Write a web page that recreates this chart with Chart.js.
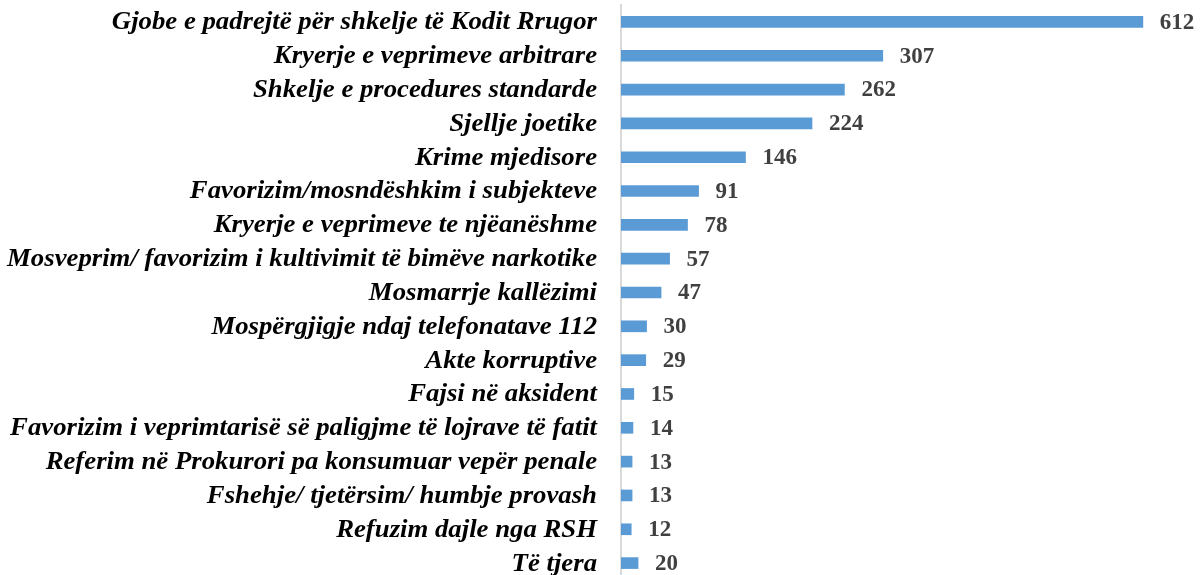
<!DOCTYPE html>
<html>
<head>
<meta charset="utf-8">
<script src="https://cdn.jsdelivr.net/npm/chart.js@4/dist/chart.umd.min.js"></script>
<style>
  html, body { margin: 0; padding: 0; background: #fff; overflow: hidden; }
  #wrap { width: 1200px; height: 580px; }
</style>
</head>
<body>
<div id="wrap"><canvas id="chart" width="1200" height="580"></canvas></div>
<script>
// Categories and counts (top to bottom)
let categories = [
  "Gjobe e padrejtë për shkelje të Kodit Rrugor",
  "Kryerje e veprimeve arbitrare",
  "Shkelje e procedures standarde",
  "Sjellje joetike",
  "Krime mjedisore",
  "Favorizim/mosndëshkim i subjekteve",
  "Kryerje e veprimeve te njëanëshme",
  "Mosveprim/ favorizim i kultivimit të bimëve narkotike",
  "Mosmarrje kallëzimi",
  "Mospërgjigje ndaj telefonatave 112",
  "Akte korruptive",
  "Fajsi në aksident",
  "Favorizim i veprimtarisë së paligjme të lojrave të fatit",
  "Referim në Prokurori pa konsumuar vepër penale",
  "Fshehje/ tjetërsim/ humbje provash",
  "Refuzim dajle nga RSH",
  "Të tjera"
];
let counts = [612, 307, 262, 224, 146, 91, 78, 57, 47, 30, 29, 15, 14, 13, 13, 12, 20];

const serif = "'Liberation Serif', 'Times New Roman', serif";

// Category names (slightly wide, like the original) and values next to bars
const textLabels = {
  id: "textLabels",
  afterDatasetsDraw(chart) {
    const ctx = chart.ctx;
    const yScale = chart.scales.y;
    const meta = chart.getDatasetMeta(0);
    ctx.save();
    ctx.fillStyle = "#000";
    ctx.font = "italic bold 25px " + serif;
    ctx.textAlign = "right";
    ctx.textBaseline = "middle";
    categories.forEach((name, i) => {
      const y = yScale.getPixelForValue(i);
      ctx.save();
      ctx.translate(597, y + 1);
      ctx.scale(1.07, 1);
      ctx.fillText(name, 0, 0);
      ctx.restore();
    });
    ctx.font = "bold 23px " + serif;
    ctx.fillStyle = "#404040";
    ctx.textAlign = "left";
    meta.data.forEach((bar, i) => {
      ctx.fillText(String(counts[i]), bar.x + 17, bar.y + 1);
    });
    ctx.restore();
  }
};

new Chart(document.getElementById("chart").getContext("2d"), {
  type: "bar",
  data: {
    labels: categories,
    datasets: [
      {
        data: counts,
        backgroundColor: "#5B9BD5",
        borderWidth: 0,
        barThickness: 11
      }
    ]
  },
  options: {
    indexAxis: "y",
    responsive: false,
    animation: false,
    layout: { padding: { top: 5, right: 0, bottom: 0, left: 0 } },
    plugins: {
      legend: { display: false },
      tooltip: { enabled: false }
    },
    scales: {
      x: {
        display: false,
        min: 0,
        max: 679
      },
      y: {
        afterFit(scale) { scale.width = 621; },
        grid: { display: false, drawTicks: false },
        border: { display: true, color: "#d9d9d9", width: 2 },
        ticks: { display: false }
      }
    }
  },
  plugins: [textLabels]
});
</script>
</body>
</html>
